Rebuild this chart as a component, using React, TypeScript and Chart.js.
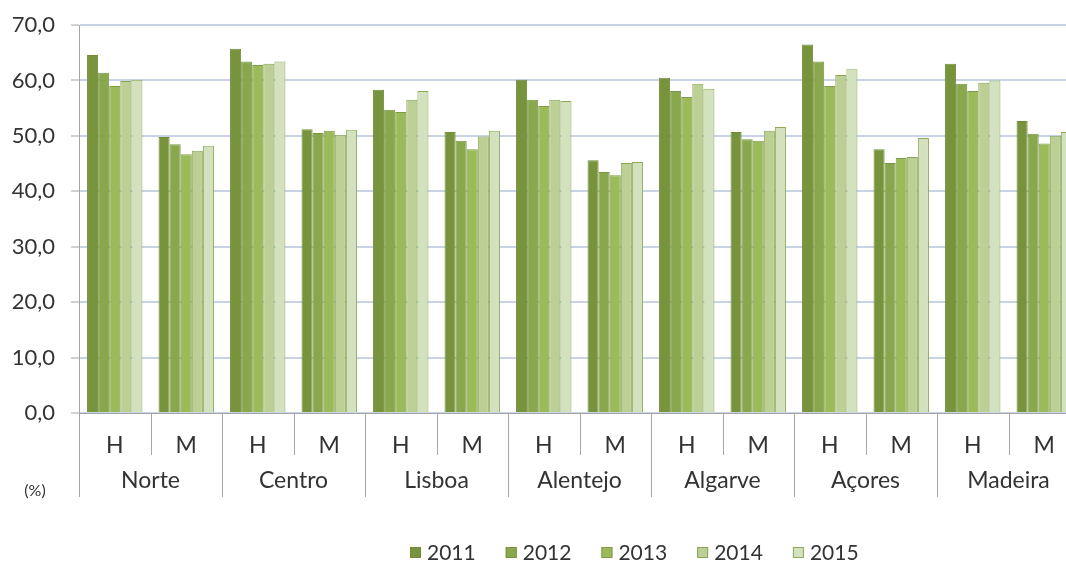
import React, { useEffect, useRef } from "react";
import { Chart, registerables } from "chart.js";

Chart.register(...registerables);

const regions = ["Norte", "Centro", "Lisboa", "Alentejo", "Algarve", "Açores", "Madeira"];
const sexes = ["H", "M"];
const years = ["2011", "2012", "2013", "2014", "2015"];
// order: Norte H, Norte M, Centro H, Centro M, ...
const v2011 = [64.6, 49.8, 65.7, 51.2, 58.3, 50.7, 60.1, 45.6, 60.5, 50.7, 66.5, 47.6, 63.0, 52.7];
const v2012 = [61.4, 48.5, 63.4, 50.5, 54.7, 49.1, 56.5, 43.5, 58.1, 49.4, 63.4, 45.1, 59.4, 50.4];
const v2013 = [59.0, 46.7, 62.8, 50.9, 54.3, 47.6, 55.4, 42.9, 57.0, 49.1, 59.0, 46.0, 58.1, 48.6];
const v2014 = [59.9, 47.3, 63.0, 50.2, 56.5, 49.9, 56.5, 45.1, 59.4, 50.9, 61.0, 46.2, 59.6, 50.0];
const v2015 = [60.1, 48.2, 63.4, 51.1, 58.1, 50.9, 56.3, 45.3, 58.5, 51.6, 62.0, 49.6, 60.0, 50.7];
const yMin = 0;
const yMax = 70;
const yStep = 10;
const unitLabel = "(%)";

const seriesValues = [v2011, v2012, v2013, v2014, v2015];
const fills = ["#77933C", "#89A74D", "#9BBB59", "#BCD096", "#D4E1BE"];
const borders = ["#6F8B36", "#779540", "#7E9C45", "#88A553", "#8EAA58"];

const FONT = "Lato, 'Open Sans', 'Liberation Sans', sans-serif";
const TEXT = "#333333";
const AXIS = "#A6A6A6";

const categories = regions.flatMap(() => sexes);

const decorPlugin = {
  id: "decor",
  afterDraw(chart: any) {
    const ctx = chart.ctx;
    const x = chart.scales.x;
    const area = chart.chartArea;
    const n = categories.length;
    const step = x.getPixelForValue(1) - x.getPixelForValue(0);
    ctx.save();
    ctx.strokeStyle = AXIS;
    ctx.lineWidth = 1;
    for (let i = 0; i <= n; i++) {
      const bx = Math.round(x.getPixelForValue(Math.min(i, n - 1)) + (i === n ? step / 2 : -step / 2)) + 0.5;
      const len = i % sexes.length === 0 ? 84 : 42;
      ctx.beginPath();
      ctx.moveTo(bx, area.bottom);
      ctx.lineTo(bx, area.bottom + len);
      ctx.stroke();
    }
    ctx.fillStyle = TEXT;
    ctx.font = `23px ${FONT}`;
    ctx.textAlign = "center";
    ctx.textBaseline = "middle";
    regions.forEach((r, ri) => {
      const a = x.getPixelForValue(ri * sexes.length);
      const b = x.getPixelForValue(ri * sexes.length + sexes.length - 1);
      ctx.fillText(r, (a + b) / 2, area.bottom + 68);
    });
    ctx.font = `16px ${FONT}`;
    ctx.fillText(unitLabel, 35, area.bottom + 78);

    // legend
    ctx.font = `21px ${FONT}`;
    ctx.textAlign = "left";
    let lx = 410;
    const ly = 553;
    chart.data.datasets.forEach((ds: any) => {
      ctx.fillStyle = ds.backgroundColor;
      ctx.fillRect(lx, ly - 6, 11, 11);
      ctx.strokeStyle = ds.borderColor;
      ctx.strokeRect(lx + 0.5, ly - 5.5, 10, 10);
      ctx.fillStyle = TEXT;
      ctx.fillText(ds.label, lx + 17, ly);
      lx += 17 + ctx.measureText(ds.label).width + 30;
    });
    ctx.restore();
  },
};

export default function App() {
  const ref = useRef<HTMLCanvasElement | null>(null);
  useEffect(() => {
    if (!ref.current) return;
    const chart = new Chart(ref.current, {
      type: "bar",
      data: {
        labels: categories,
        datasets: years.map((y, i) => ({
          label: y,
          data: seriesValues[i],
          backgroundColor: fills[i],
          borderColor: borders[i],
          borderWidth: 1,
          barPercentage: 1,
          categoryPercentage: 0.775,
        })),
      },
      options: {
        responsive: false,
        animation: false,
        devicePixelRatio: 1,
        layout: { padding: { top: 25, left: 0, right: 0, bottom: 0 } },
        plugins: { legend: { display: false }, tooltip: { enabled: false } },
        scales: {
          x: {
            grid: { display: false },
            border: { display: true, color: AXIS, width: 1 },
            ticks: {
              color: TEXT,
              font: { family: FONT, size: 23 },
              padding: 11,
              maxRotation: 0,
              autoSkip: false,
            },
            afterFit: (s: any) => {
              s.height = 150;
            },
          },
          y: {
            min: yMin,
            max: yMax,
            grid: {
              color: "#C9D3E6",
              lineWidth: 2,
              tickLength: 8,
              tickColor: AXIS,
              tickWidth: 1,
            },
            border: { display: true, color: AXIS, width: 1 },
            ticks: {
              stepSize: yStep,
              color: TEXT,
              font: { family: FONT, size: 22 },
              padding: 16,
              callback: (v: any) => Number(v).toFixed(1).replace(".", ","),
            },
            afterFit: (s: any) => {
              s.width = 79;
              s.paddingTop = 12;
              s.paddingBottom = 12;
            },
          },
        },
      },
      plugins: [decorPlugin],
    });
    return () => chart.destroy();
  }, []);
  return (
    <div
      style={{
        position: "fixed",
        left: 0,
        top: 0,
        width: 1066,
        height: 563,
        overflow: "hidden",
        background: "#fff",
      }}
    >
      <canvas ref={ref} width={1080} height={563} style={{ display: "block" }} />
    </div>
  );
}
